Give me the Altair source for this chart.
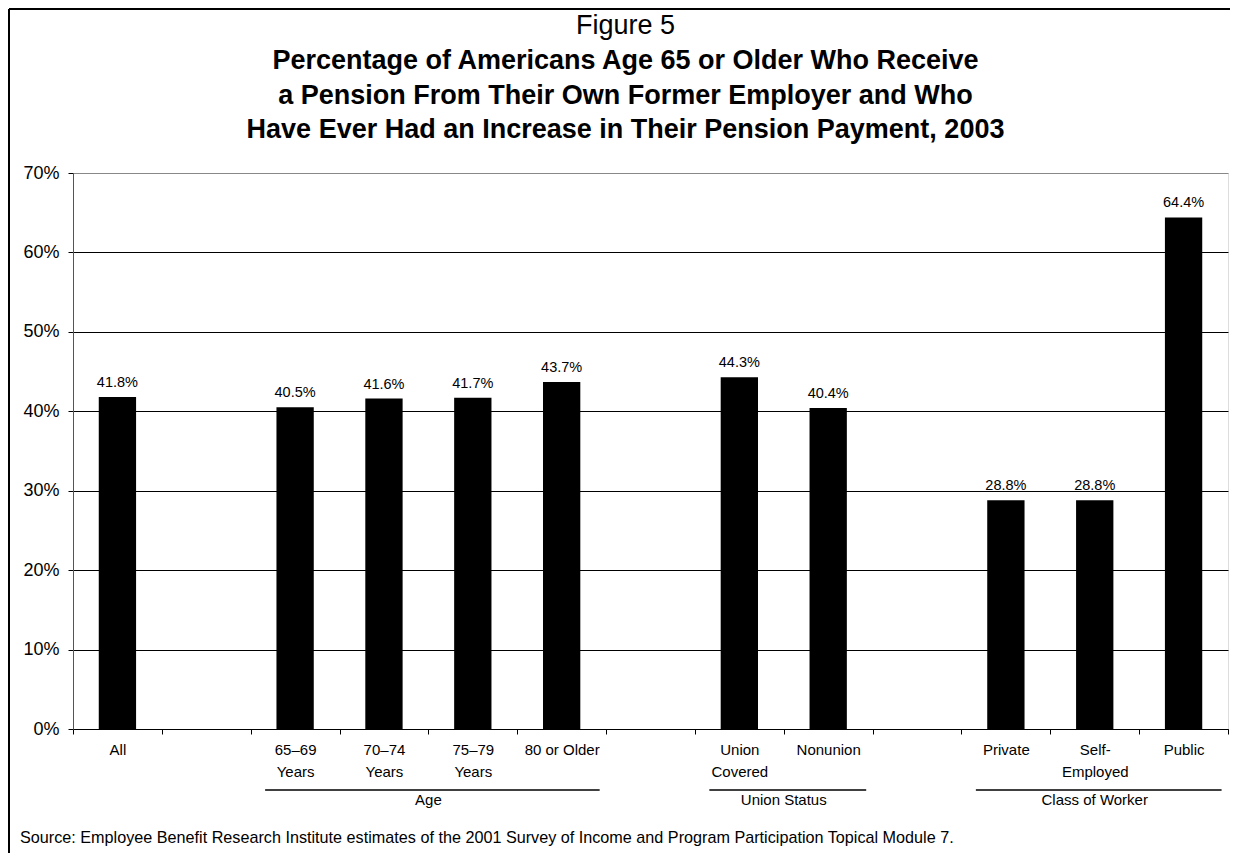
import altair as alt
import pandas as pd

# ---- data -------------------------------------------------------------
categories = ["All", " ", "65–69\nYears", "70–74\nYears", "75–79\nYears",
              "80 or Older", "  ", "Union\nCovered", "Nonunion", "   ",
              "Private", "Self-\nEmployed", "Public"]
bar_categories = ["All", "65–69\nYears", "70–74\nYears", "75–79\nYears",
                  "80 or Older", "Union\nCovered", "Nonunion",
                  "Private", "Self-\nEmployed", "Public"]
bar_values = [41.8, 40.5, 41.6, 41.7, 43.7, 44.3, 40.4, 28.8, 28.8, 64.4]

group_names = ["Age", "Union Status", "Class of Worker"]
group_first = [2, 7, 10]
group_last = [5, 8, 12]

y_ticks = [0, 10, 20, 30, 40, 50, 60, 70]

title_text = "Figure 5"
subtitle_lines = ["Percentage of Americans Age 65 or Older Who Receive",
                  "a Pension From Their Own Former Employer and Who",
                  "Have Ever Had an Increase in Their Pension Payment, 2003"]
source_text = ("Source: Employee Benefit Research Institute estimates of the 2001 "
               "Survey of Income and Program Participation Topical  Module 7.")

FONT = "Liberation Sans"
W, H = 1155, 556

df = pd.DataFrame({"category": bar_categories, "value": bar_values})
gdf = pd.DataFrame({"group": group_names, "first": group_first, "last": group_last})

xscale = alt.Scale(domain=categories, paddingInner=0, paddingOuter=0)
yscale = alt.Scale(domain=[0, 70], nice=False, zero=True)
gscale = alt.Scale(domain=[0, len(categories)], nice=False, zero=False)

yaxis = alt.Axis(title=None, values=y_ticks,
                 labelExpr="datum.value + '%'",
                 grid=True,
                 gridColor={"condition": {"test": "datum.value >= 70", "value": "#888888"},
                            "value": "black"},
                 gridWidth=1, tickSize=5, tickColor="black",
                 domainColor="#555555", labelPadding=9,
                 labelFontSize=18, labelColor="black", labelFont=FONT)

bars = alt.Chart(df).mark_bar(color="black", width={"band": 0.42}).encode(
    x=alt.X("category:N", scale=xscale, sort=categories,
            axis=alt.Axis(title=None, labelAngle=0,
                          labelExpr="split(datum.label, '\\n')",
                          tickBand="extent", tickSize=5, tickColor="black",
                          domainColor="black", labelPadding=8,
                          labelFontSize=15, labelLineHeight=22,
                          labelBaseline="top", labelColor="black",
                          labelOverlap=False, labelLimit=300, labelFont=FONT)),
    y=alt.Y("value:Q", scale=yscale, axis=yaxis),
)

labels = alt.Chart(df).transform_calculate(
    label="format(datum.value, '.1f') + '%'"
).mark_text(baseline="alphabetic", dy=-10, fontSize=14.5, font=FONT, color="black").encode(
    x=alt.X("category:N", scale=xscale, sort=categories, axis=None),
    y=alt.Y("value:Q", scale=yscale, axis=yaxis),
    text="label:N",
)

gbase = alt.Chart(gdf).transform_calculate(
    gx1="datum.first + 0.5",
    gx2="datum.last + 0.5",
    gxm="(datum.first + datum.last + 1) / 2",
)
grules = gbase.mark_rule(color="black", strokeWidth=1.3, xOffset=-30, x2Offset=38).encode(
    x=alt.X("gx1:Q", scale=gscale, axis=None),
    x2="gx2:Q",
    y=alt.value(617),
)
gtext = gbase.mark_text(fontSize=15, font=FONT, color="black", baseline="alphabetic").encode(
    x=alt.X("gxm:Q", scale=gscale, axis=None),
    y=alt.value(632),
    text="group:N",
)

source = alt.Chart(pd.DataFrame({"t": [source_text]})).mark_text(
    fontSize=16.2, font=FONT, color="black", align="left", baseline="alphabetic"
).encode(x=alt.value(-53), y=alt.value(670), text="t:N")

border_top = alt.Chart(pd.DataFrame({"a": [0]})).mark_rule(color="black", strokeWidth=2).encode(
    x=alt.value(-64), x2=alt.value(W + 10), y=alt.value(-164))
border_left = alt.Chart(pd.DataFrame({"a": [0]})).mark_rule(color="black", strokeWidth=2).encode(
    x=alt.value(-64), y=alt.value(-164), y2=alt.value(690))

chart = alt.layer(bars, labels, grules, gtext, source, border_top, border_left).resolve_scale(
    x="independent"
).properties(
    width=W, height=H,
    autosize=alt.AutoSizeParams(type="none"),
    padding={"left": 65, "top": 165, "right": 2, "bottom": 124},
    title=alt.TitleParams(
        text=title_text, subtitle=subtitle_lines,
        font=FONT, fontSize=27, fontWeight="normal", color="black",
        subtitleFont=FONT, subtitleFontSize=27, subtitleFontWeight="bold",
        subtitleColor="black", subtitleLineHeight=34.5, subtitlePadding=8,
        anchor="middle", frame="group", dx=-25, offset=-136,
    ),
).configure_view(stroke="#888888", strokeWidth=1.5).configure(font=FONT)

chart.save("out.html", embed_options={"renderer": "svg", "actions": False})
